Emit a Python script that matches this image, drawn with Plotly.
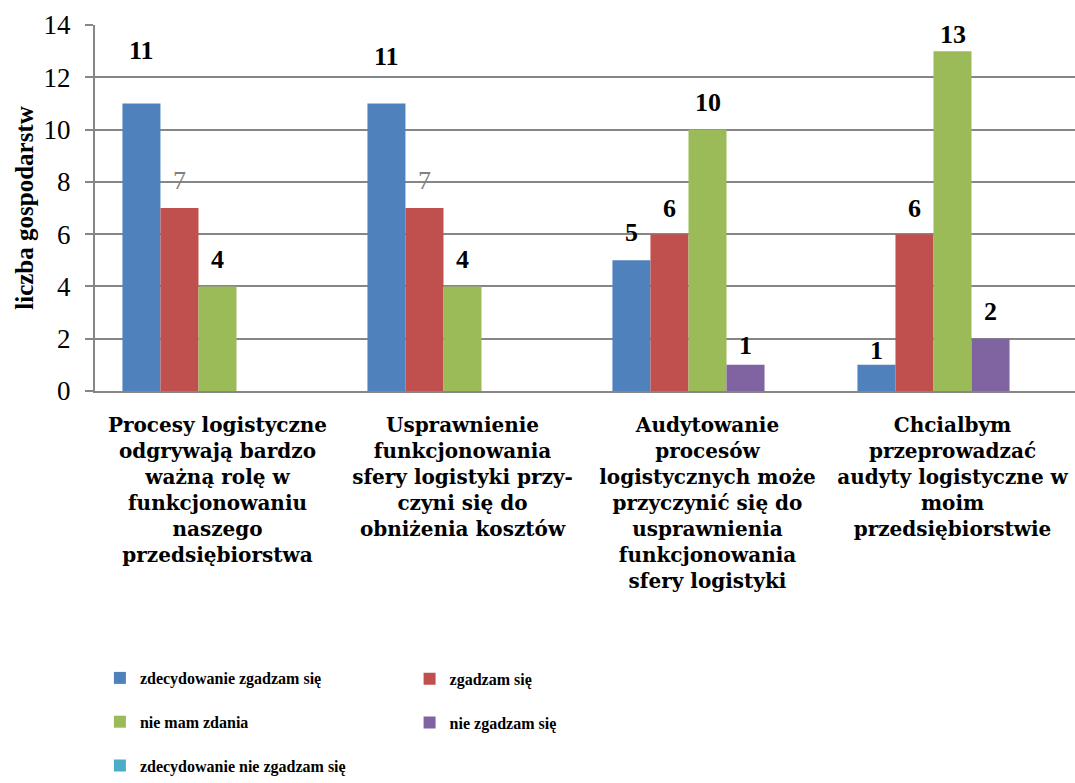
import plotly.graph_objects as go

categories = [
    "Procesy logistyczne<br>odgrywają bardzo<br>ważną rolę w<br>funkcjonowaniu<br>naszego<br>przedsiębiorstwa",
    "Usprawnienie<br>funkcjonowania<br>sfery logistyki przy-<br>czyni się do<br>obniżenia kosztów",
    "Audytowanie<br>procesów<br>logistycznych może<br>przyczynić się do<br>usprawnienia<br>funkcjonowania<br>sfery logistyki",
    "Chcialbym<br>przeprowadzać<br>audyty logistyczne w<br>moim<br>przedsiębiorstwie",
]
series_names = [
    "zdecydowanie zgadzam się",
    "zgadzam się",
    "nie mam zdania",
    "nie zgadzam się",
    "zdecydowanie nie zgadzam się",
]
zdecydowanie_zgadzam = [11, 11, 5, 1]
zgadzam = [7, 7, 6, 6]
nie_mam_zdania = [4, 4, 10, 13]
nie_zgadzam = [0, 0, 1, 2]
zdecydowanie_nie_zgadzam = [0, 0, 0, 0]
series_values = [zdecydowanie_zgadzam, zgadzam, nie_mam_zdania, nie_zgadzam, zdecydowanie_nie_zgadzam]
y_tick_values = [0, 2, 4, 6, 8, 10, 12, 14]
y_title = "liczba gospodarstw"

# styling
colors = ["#4F81BD", "#C0504D", "#9BBB59", "#8064A2", "#4BACC6"]
# label offset above bar top (px), per series per category
label_dy = [
    [53, 47, 28, 14],
    [28, 28, 26, 26],
    [27, 27, 27, 17],
    [0, 0, 19, 27],
    [0, 0, 0, 0],
]
label_colors = [
    ["black"] * 4,
    ["#808080", "#808080", "black", "black"],
    ["black"] * 4,
    ["black"] * 4,
    ["black"] * 4,
]
FONT = "Liberation Serif"
CAT_FONT = "DejaVu Serif"
W, H = 1075, 783
ML, MR, MT, MB = 95, 0, 25, 385
BARGAP = 0.224
GRID = "#868686"

fig = go.Figure()
for i, (name, vals) in enumerate(zip(series_names, series_values)):
    fig.add_trace(go.Bar(
        x=categories, y=vals, name=name,
        marker=dict(color=colors[i], line=dict(width=0)),
        legend="legend" if i % 2 == 0 else "legend2",
        legendgroup=f"g{i}",
    ))

plot_w = W - ML - MR
cat_w = plot_w / len(categories)
bar_w = cat_w * (1 - BARGAP) / len(series_names)
n = len(series_names)
for i, vals in enumerate(series_values):
    for j, v in enumerate(vals):
        if v == 0:
            continue
        col = label_colors[i][j]
        fig.add_annotation(
            x=categories[j], y=v, xref="x", yref="y",
            text=f"<b>{v}</b>" if col == "black" else str(v),
            showarrow=False,
            xshift=(i - (n - 1) / 2) * bar_w,
            yshift=label_dy[i][j],
            yanchor="middle",
            font=dict(family=FONT, size=26, color=col),
        )

legend_common = dict(
    xanchor="left", yanchor="top",
    orientation="v", tracegroupgap=20, traceorder="grouped",
    font=dict(family=FONT, size=16, color="black", weight="bold"),
    itemwidth=30, bgcolor="rgba(0,0,0,0)",
)
fig.update_layout(
    width=W, height=H,
    margin=dict(l=ML, r=MR, t=MT, b=MB),
    paper_bgcolor="white", plot_bgcolor="white",
    barmode="group", bargap=BARGAP, bargroupgap=0,
    font=dict(family=FONT, color="black"),
    showlegend=True,
    legend=dict(x=0.005, y=-0.74, **legend_common),
    legend2=dict(x=0.321, y=-0.74, **legend_common),
)
fig.update_xaxes(
    showgrid=False, showline=True, linecolor=GRID, linewidth=2,
    ticks="", tickfont=dict(family=CAT_FONT, size=20, color="black", weight="bold"),
    ticklabelstandoff=15, automargin=False, fixedrange=True,
)
fig.update_yaxes(
    range=[0, 14], tickvals=y_tick_values,
    showgrid=True, gridcolor=GRID, gridwidth=2,
    showline=True, linecolor=GRID, linewidth=2,
    ticks="outside", ticklen=8, tickcolor=GRID, tickwidth=2,
    tickfont=dict(family=FONT, size=27, color="black"),
    ticklabelstandoff=9,
    zeroline=False, automargin=False,
    title=dict(text=y_title, standoff=3,
               font=dict(family=FONT, size=25, color="black", weight="bold")),
)
fig.write_html("out.html", config={"displayModeBar": False},
               post_script="document.body.style.margin='0';")
